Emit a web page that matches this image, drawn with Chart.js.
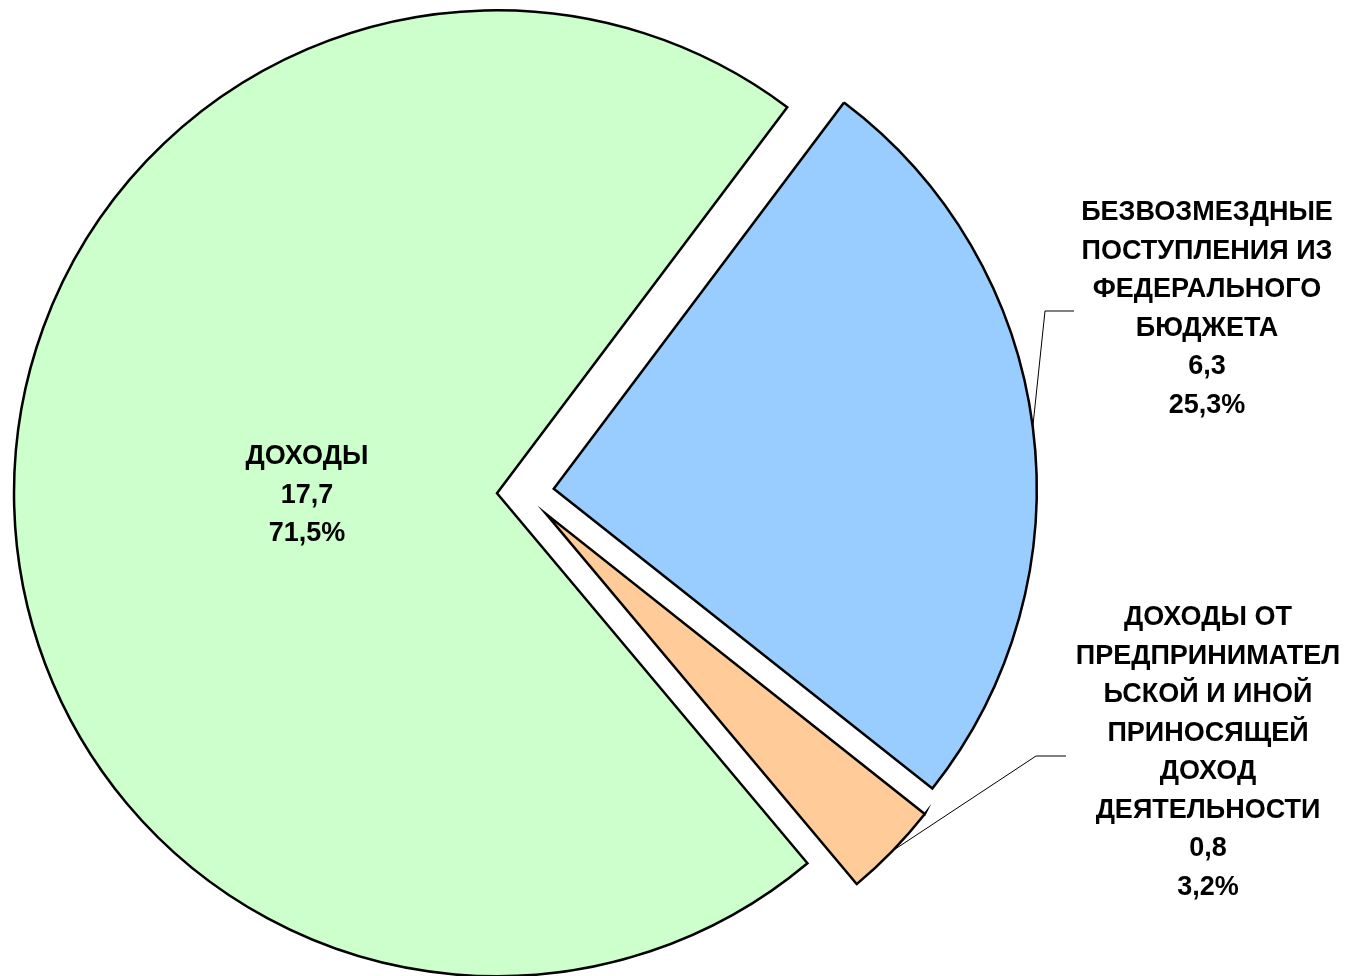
<!DOCTYPE html>
<html>
<head>
<meta charset="utf-8">
<script src="https://cdn.jsdelivr.net/npm/chart.js@4/dist/chart.umd.min.js"></script>
<style>
    html, body { margin: 0; padding: 0; background: #ffffff; }
    #pie { display: block; }
</style>
</head>
<body>
<canvas id="pie" width="1350" height="976"></canvas>
<script>
/* Структура доходов: три сектора круговой диаграммы */

const categories = [
    ['ДОХОДЫ'],
    ['БЕЗВОЗМЕЗДНЫЕ', 'ПОСТУПЛЕНИЯ ИЗ', 'ФЕДЕРАЛЬНОГО', 'БЮДЖЕТА'],
    ['ДОХОДЫ ОТ', 'ПРЕДПРИНИМАТЕЛ', 'ЬСКОЙ И ИНОЙ', 'ПРИНОСЯЩЕЙ', 'ДОХОД', 'ДЕЯТЕЛЬНОСТИ']
];
const values = [17.7, 6.3, 0.8];
const percents = [71.5, 25.3, 3.2];
const sliceColors = ['#CCFFCC', '#99CCFF', '#FFCC99'];

// вынос секторов (px) и размещение подписей
const explode = [27, 30, 31];
const labelPos = [
    { x: 307, y: 457, leader: null },
    { x: 1207, y: 213, leader: [[1045, 311], [1074, 311]] },
    { x: 1208, y: 618, leader: [[1036, 756], [1066, 756]] }
];
const LINE_H = 38.5;
const LABEL_FONT = 'bold 27px "Liberation Sans", Arial, sans-serif';

const fmt = (v) => v.toFixed(1).replace('.', ',');

const explodePlugin = {
    id: 'explode',
    afterDatasetsUpdate(chart) {
        const meta = chart.getDatasetMeta(0);
        meta.data.forEach((arc, i) => {
            const mid = (arc.startAngle + arc.endAngle) / 2;
            arc.x = arc.x + Math.cos(mid) * explode[i];
            arc.y = arc.y + Math.sin(mid) * explode[i];
        });
    }
};

const labelPlugin = {
    id: 'sliceLabels',
    afterDatasetsDraw(chart) {
        const ctx = chart.ctx;
        const meta = chart.getDatasetMeta(0);
        ctx.save();
        meta.data.forEach((arc, i) => {
            const pos = labelPos[i];
            if (pos.leader) {
                const mid = (arc.startAngle + arc.endAngle) / 2;
                ctx.beginPath();
                ctx.moveTo(arc.x + Math.cos(mid) * arc.outerRadius, arc.y + Math.sin(mid) * arc.outerRadius);
                pos.leader.forEach(p => ctx.lineTo(p[0], p[1]));
                ctx.strokeStyle = '#000';
                ctx.lineWidth = 1;
                ctx.stroke();
            }
            const lines = categories[i].concat([fmt(values[i]), fmt(percents[i]) + '%']);
            ctx.font = LABEL_FONT;
            ctx.fillStyle = '#000';
            ctx.textAlign = 'center';
            ctx.textBaseline = 'middle';
            lines.forEach((t, k) => ctx.fillText(t, pos.x, pos.y + k * LINE_H));
        });
        ctx.restore();
    }
};

new Chart(document.getElementById('pie').getContext('2d'), {
    type: 'pie',
    data: {
        labels: categories,
        datasets: [{
            data: values,
            backgroundColor: sliceColors,
            borderColor: '#000000',
            borderWidth: 2.5,
            borderJoinStyle: 'miter'
        }]
    },
    options: {
        responsive: false,
        animation: false,
        events: [],
        rotation: 140,
        radius: 483,
        layout: { padding: { left: 0, right: 302, top: 9, bottom: 0 } },
        plugins: {
            legend: { display: false },
            tooltip: { enabled: false }
        }
    },
    plugins: [explodePlugin, labelPlugin]
});
</script>
</body>
</html>
